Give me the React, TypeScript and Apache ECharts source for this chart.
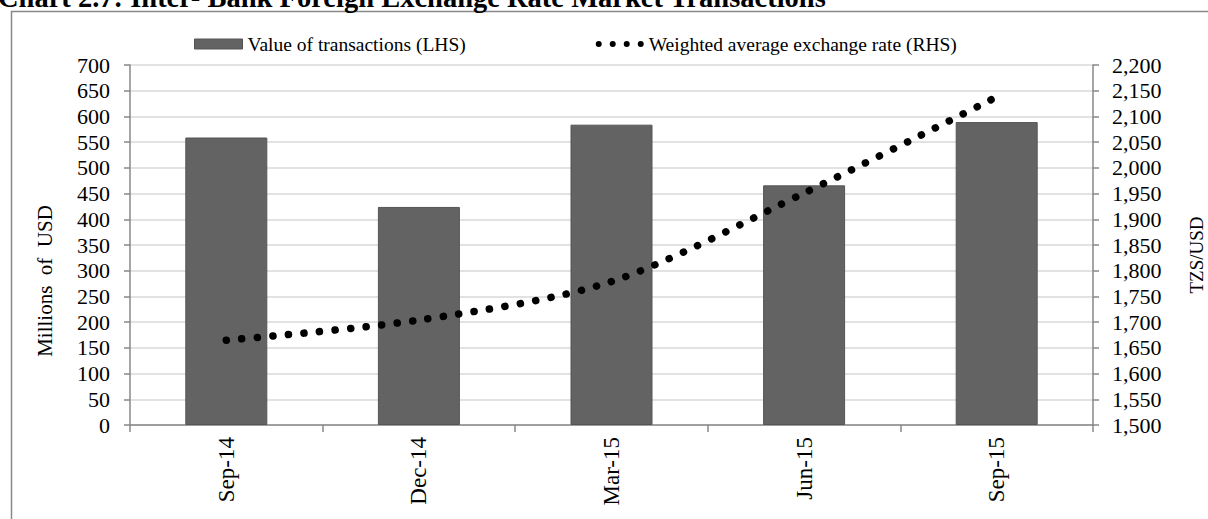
import React, { useEffect, useRef } from "react";
import * as echarts from "echarts";

const categories = ["Sep-14", "Dec-14", "Mar-15", "Jun-15", "Sep-15"];
const transactionValues = [559, 424, 584, 466, 589];
const exchangeRates = [1665, 1704, 1779, 1951, 2138];
const barName = "Value of transactions (LHS)";
const lineName = "Weighted average exchange rate (RHS)";
const titleText = "Chart 2.7: Inter- Bank Foreign Exchange Rate Market Transactions";

const FONT = '"Liberation Serif", "Times New Roman", serif';

export default function App() {
  const ref = useRef<HTMLDivElement>(null);
  useEffect(() => {
    if (!ref.current) return;
    const chart = echarts.init(ref.current, undefined, { renderer: "svg" });
    const dotsIcon =
      "path://M0,3a3,3 0 1,0 6,0a3,3 0 1,0 -6,0M14,3a3,3 0 1,0 6,0a3,3 0 1,0 -6,0M28,3a3,3 0 1,0 6,0a3,3 0 1,0 -6,0M42,3a3,3 0 1,0 6,0a3,3 0 1,0 -6,0";
    chart.setOption({
      animation: false,
      textStyle: { fontFamily: FONT, color: "#000" },
      grid: { left: 130, right: 115, top: 65, bottom: 94, containLabel: false },
      legend: {
        top: 29,
        left: 189,
        itemWidth: 48,
        itemHeight: 10,
        itemGap: 130,
        textStyle: { fontFamily: FONT, fontSize: 19.5, color: "#000" },
        data: [
          { name: barName, icon: "rect", itemStyle: { color: "#636363", borderColor: "#555", borderWidth: 1 } },
          { name: lineName, icon: dotsIcon, itemStyle: { color: "#000" } },
        ],
      },
      graphic: [
        {
          type: "rect",
          shape: { x: 11.5, y: 11.5, width: 1220, height: 540 },
          style: { fill: "none", stroke: "#888", lineWidth: 1.5 },
          silent: true,
        },
        {
          type: "text",
          x: -2,
          y: 12,
          style: {
            text: titleText,
            font: 'bold 28.5px "Liberation Serif", "Times New Roman", serif',
            fill: "#000",
            verticalAlign: "bottom",
          },
        },
        {
          type: "text",
          x: 45,
          y: 281,
          rotation: Math.PI / 2,
          style: {
            text: "Millions  of  USD",
            font: '21px "Liberation Serif", "Times New Roman", serif',
            fill: "#000",
            align: "center",
            verticalAlign: "middle",
          },
        },
        {
          type: "text",
          x: 1196,
          y: 255,
          rotation: Math.PI / 2,
          style: {
            text: "TZS/USD",
            font: '19px "Liberation Serif", "Times New Roman", serif',
            fill: "#000",
            align: "center",
            verticalAlign: "middle",
          },
        },
      ],
      xAxis: {
        type: "category",
        data: categories,
        boundaryGap: true,
        axisLine: { lineStyle: { color: "#888", width: 1.5 } },
        axisTick: { show: true, alignWithLabel: false, length: 7, lineStyle: { color: "#888", width: 1.5 } },
        axisLabel: { rotate: 90, margin: 12, fontSize: 23, fontFamily: FONT, color: "#000" },
        splitLine: { show: false },
      },
      yAxis: [
        {
          type: "value",
          min: 0,
          max: 700,
          interval: 50,
          axisLine: { show: true, lineStyle: { color: "#888", width: 1.5 } },
          axisTick: { show: true, length: 6, lineStyle: { color: "#888", width: 1.5 } },
          axisLabel: { margin: 20, fontSize: 22, fontFamily: FONT, color: "#000" },
          splitLine: { show: true, lineStyle: { color: "#d9d9d9", width: 1.5 } },
        },
        {
          type: "value",
          min: 1500,
          max: 2200,
          interval: 50,
          position: "right",
          axisLine: { show: true, lineStyle: { color: "#888", width: 1.5 } },
          axisTick: { show: true, length: 6, lineStyle: { color: "#888", width: 1.5 } },
          axisLabel: {
            margin: 19,
            fontSize: 22,
            fontFamily: FONT,
            color: "#000",
            formatter: (v: number) => v.toLocaleString("en-US"),
          },
          splitLine: { show: false },
        },
      ],
      series: [
        {
          name: barName,
          type: "bar",
          data: transactionValues,
          barWidth: 82,
          itemStyle: { color: "#636363", borderColor: "#555", borderWidth: 1 },
          yAxisIndex: 0,
        },
        {
          name: lineName,
          type: "line",
          data: exchangeRates,
          yAxisIndex: 1,
          smooth: 0.3,
          symbol: "none",
          itemStyle: { color: "#000" },
          lineStyle: { color: "#000", width: 7.5, type: [0.1, 15.5], cap: "round" },
        },
      ],
    });
    return () => chart.dispose();
  }, []);
  return (
    <div
      ref={ref}
      style={{ position: "absolute", left: 0, top: 0, width: 1208, height: 519, background: "#fff" }}
    />
  );
}
